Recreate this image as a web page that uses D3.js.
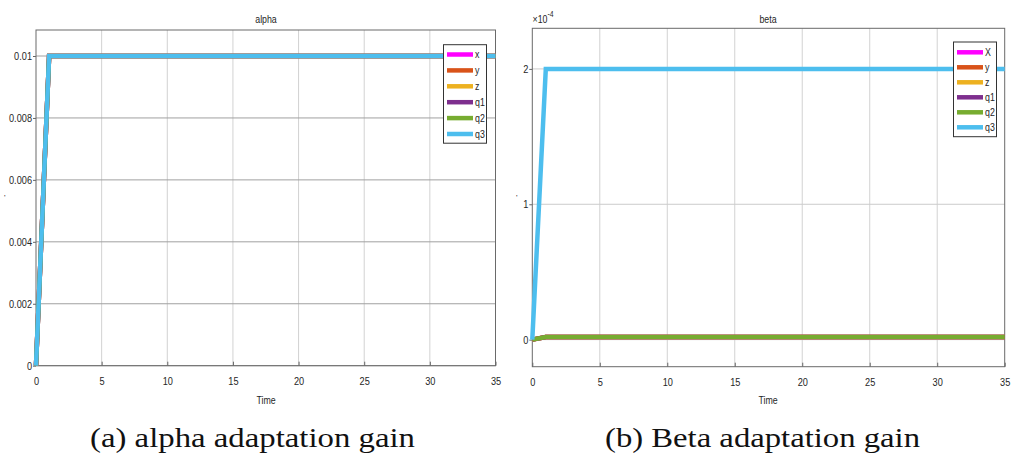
<!DOCTYPE html>
<html>
<head>
<meta charset="utf-8">
<script src="https://cdn.jsdelivr.net/npm/d3@7"></script>
<style>
  body { margin: 0; background: #fff; }
  svg { display: block; }
  .tick text, .lab { font-family: "Liberation Sans", Arial, sans-serif; fill: #262626; }
  .cap { font-family: "Liberation Serif", "Times New Roman", serif; fill: #111; }
</style>
</head>
<body>
<svg id="chart" width="1011" height="457"></svg>
<script>
// time samples of the simulink scope
const times = [0, 1, 35];

const seriesNames = ["x", "y", "z", "q1", "q2", "q3"];
const betaNames = ["X", "y", "z", "q1", "q2", "q3"];
const seriesColors = ["#ff00ff", "#d95319", "#edb120", "#7e2f8e", "#77ac30", "#4dbeee"];

// alpha gain, every state gets the same value
const alphaX = [0, 0.01, 0.01];
const alphaY = [0, 0.01, 0.01];
const alphaZ = [0, 0.01, 0.01];
const alphaQ1 = [0, 0.01, 0.01];
const alphaQ2 = [0, 0.01, 0.01];
const alphaQ3 = [0, 0.01, 0.01];

// beta gain, in units of 1e-4
const betaX = [0, 0.02, 0.02];
const betaY = [0, 0.02, 0.02];
const betaZ = [0, 0.02, 0.02];
const betaQ1 = [0, 0.02, 0.02];
const betaQ2 = [0, 0.02, 0.02];
const betaQ3 = [0, 2, 2];

const timeTicks = [0, 5, 10, 15, 20, 25, 30, 35];
const timeTickLabels = ["0", "5", "10", "15", "20", "25", "30", "35"];
const alphaTicks = [0, 0.002, 0.004, 0.006, 0.008, 0.01];
const alphaTickLabels = ["0", "0.002", "0.004", "0.006", "0.008", "0.01"];
const betaTicks = [0, 1, 2];
const betaTickLabels = ["0", "1", "2"];

const squeeze = 0.8; // the scope export is narrow, helvetica squeezed sideways

const svg = d3.select("#chart");

// narrow text placed at (x, y)
function narrowText(parent, x, y, size, anchor, txt) {
  return parent.append("text").attr("class", "lab")
    .attr("transform", "translate(" + x + "," + y + ") scale(" + squeeze + ",1)")
    .attr("text-anchor", anchor).attr("font-size", size).text(txt);
}

function drawPanel(p) {
  const x = d3.scaleLinear().domain([0, 35]).range([p.left, p.right]);
  const y = d3.scaleLinear().domain(p.yDomain).range([p.bottom, p.top]);
  const g = svg.append("g");

  // grid
  g.selectAll(".vgrid")
    .data(timeTicks.slice(1, -1))
    .enter().append("line")
      .attr("x1", d => x(d)).attr("x2", d => x(d))
      .attr("y1", p.top).attr("y2", p.bottom)
      .attr("stroke", "#d2d2d2").attr("stroke-width", 1);
  g.selectAll(".hgrid")
    .data(p.yTicks)
    .enter().append("line")
      .attr("x1", p.left).attr("x2", p.right)
      .attr("y1", d => y(d)).attr("y2", d => y(d))
      .attr("stroke", p.hGrid).attr("stroke-width", 1);

  // axes
  const xAxis = g.append("g")
    .attr("transform", "translate(0," + p.bottom + ")")
    .call(d3.axisBottom(x).tickValues(timeTicks).tickSize(-4).tickFormat((d, i) => timeTickLabels[i]));
  xAxis.selectAll("text")
    .attr("y", 11.5).attr("font-size", 11.5)
    .attr("transform", "scale(" + squeeze + ",1)");
  const yAxis = g.append("g")
    .attr("transform", "translate(" + p.left + ",0)")
    .call(d3.axisLeft(y).tickValues(p.yTicks).tickSize(3).tickFormat((d, i) => p.yLabels[i]));
  yAxis.selectAll("text")
    .attr("x", 0).attr("font-size", 11.5)
    .attr("transform", "translate(-4,0) scale(" + squeeze + ",1)");
  g.selectAll(".domain").remove();
  g.selectAll(".tick line").attr("stroke", "#666");

  g.append("rect")
    .attr("x", p.left).attr("y", p.top)
    .attr("width", p.right - p.left).attr("height", p.bottom - p.top)
    .attr("fill", "none").attr("stroke", "#6a6a6a").attr("stroke-width", 1);

  // lines, drawn in legend order so q3 ends up on top
  const line = d3.line().x((d, i) => x(times[i])).y(d => y(d));
  g.selectAll(".series")
    .data(p.series)
    .enter().append("path")
      .attr("d", d => line(d))
      .attr("fill", "none")
      .attr("stroke", (d, i) => seriesColors[i])
      .attr("stroke-width", 4.5)
      .attr("stroke-linejoin", "miter");

  // title, x label, caption
  narrowText(g, p.titleX, 23, 11, "middle", p.title);
  narrowText(g, p.titleX, 404, 11, "middle", "Time");
  g.append("text").attr("class", "lab")
    .attr("x", p.yLabX).attr("y", 200).attr("font-size", 8).attr("fill", "#777").text("'");
  g.append("text").attr("class", "cap")
    .attr("x", p.capX).attr("y", 447).attr("text-anchor", "middle")
    .attr("font-size", 28)
    .attr("textLength", p.capW).attr("lengthAdjust", "spacingAndGlyphs")
    .text(p.caption);

  // legend
  const lg = g.append("g").attr("transform", "translate(" + p.legX + "," + p.legY + ")");
  lg.append("rect")
    .attr("width", p.legW).attr("height", p.legH)
    .attr("fill", "#fff").attr("stroke", "#333").attr("stroke-width", 1);
  const items = lg.selectAll(".item")
    .data(p.names)
    .enter().append("g")
      .attr("transform", (d, i) => "translate(0," + (p.legFirst + i * p.legStep) + ")");
  items.append("line")
    .attr("x1", 3.5).attr("x2", 29.5)
    .attr("stroke", (d, i) => seriesColors[i]).attr("stroke-width", 4.5);
  items.append("text").attr("class", "lab")
    .attr("dy", "0.35em").attr("font-size", 11)
    .attr("transform", "translate(31.5,0) scale(" + squeeze + ",1)")
    .text(d => d);

  return g;
}

drawPanel({
  left: 36, right: 495.5, top: 30, bottom: 365.7,
  yDomain: [0, 0.01084], yTicks: alphaTicks, yLabels: alphaTickLabels,
  hGrid: "#a0a0a0",
  series: [alphaX, alphaY, alphaZ, alphaQ1, alphaQ2, alphaQ3],
  names: seriesNames,
  title: "alpha", titleX: 266, yLabX: 4,
  caption: "(a) alpha adaptation gain", capX: 252.5, capW: 325,
  legX: 443.5, legY: 44.7, legW: 43, legH: 98.5, legFirst: 9.8, legStep: 15.9
});

const beta = drawPanel({
  left: 532.3, right: 1004.7, top: 28.3, bottom: 366.7,
  yDomain: [-0.2, 2.3], yTicks: betaTicks, yLabels: betaTickLabels,
  hGrid: "#cccccc",
  series: [betaX, betaY, betaZ, betaQ1, betaQ2, betaQ3],
  names: betaNames,
  title: "beta", titleX: 768, yLabX: 516,
  caption: "(b) Beta adaptation gain", capX: 762.5, capW: 315,
  legX: 953.5, legY: 42, legW: 43, legH: 94.7, legFirst: 10.3, legStep: 15
});

// exponent of the beta axis
const expo = beta.append("text").attr("class", "lab")
  .attr("transform", "translate(532.5,23.3) scale(" + squeeze + ",1)")
  .attr("font-size", 11).attr("fill", "#555");
expo.append("tspan").text("\u00d710");
expo.append("tspan").attr("dy", -6.5).attr("font-size", 8.5).text("-4");
</script>
</body>
</html>
